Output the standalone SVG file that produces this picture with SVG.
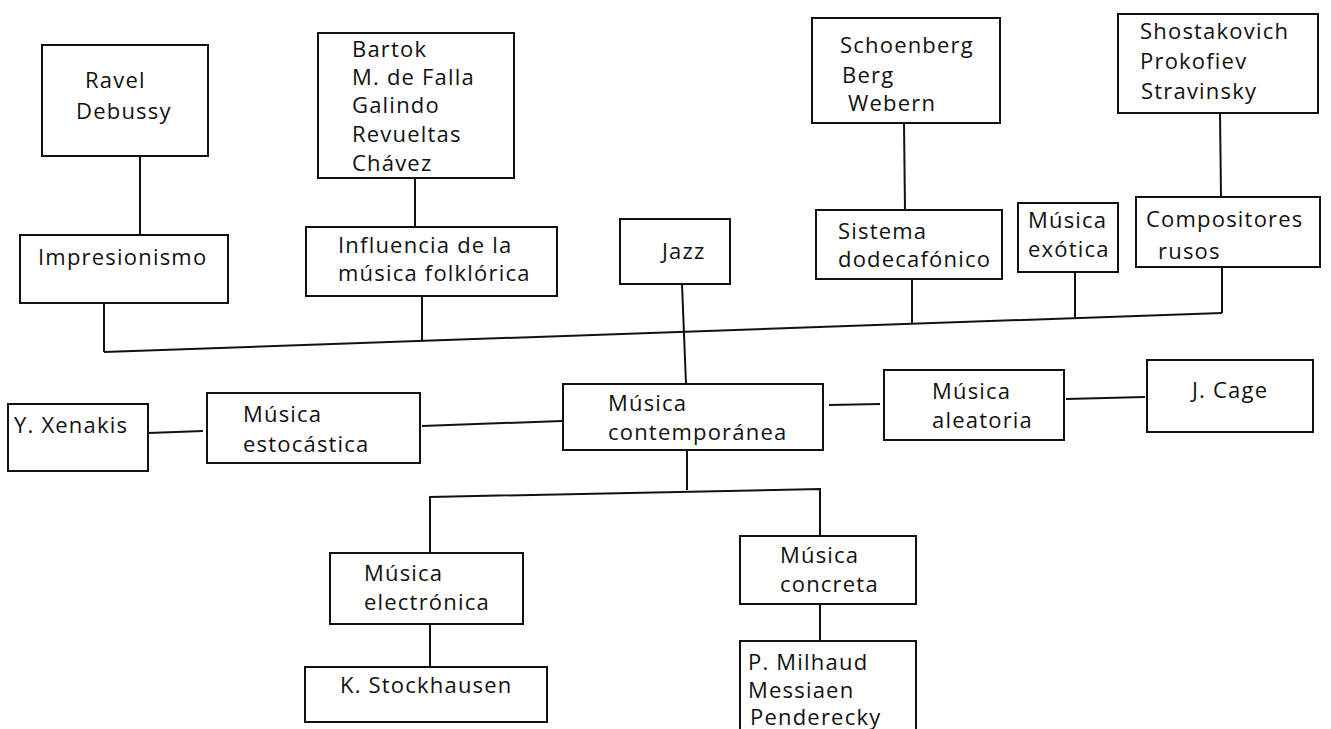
<svg xmlns="http://www.w3.org/2000/svg" width="1331" height="729" viewBox="0 0 1331 729">
<style>
rect.b{fill:#fff;stroke:#111;stroke-width:2}
.c line,.c polyline{stroke:#111;stroke-width:2;fill:none}
text{font-family:"Open Sans","Noto Sans","DejaVu Sans",sans-serif;font-size:22px;fill:#111;letter-spacing:1.2px}
</style>
<rect width="1331" height="729" fill="#fff"/>
<g class="c" id="connectors">
<line x1="140" y1="156" x2="140" y2="235"/>
<line x1="415" y1="178" x2="415" y2="227"/>
<line x1="904" y1="123" x2="905" y2="210"/>
<line x1="1220" y1="113" x2="1221" y2="197"/>
<line x1="104" y1="303" x2="104" y2="352"/>
<line x1="422" y1="296" x2="422" y2="341"/>
<line x1="912" y1="279" x2="912" y2="324"/>
<line x1="1075" y1="272" x2="1075" y2="318"/>
<line x1="1222" y1="267" x2="1222" y2="313"/>
<line x1="104" y1="352" x2="1222" y2="313"/>
<line x1="682" y1="284" x2="686" y2="384"/>
<line x1="148" y1="433" x2="203" y2="431"/>
<line x1="422" y1="426" x2="562" y2="421"/>
<line x1="829" y1="405" x2="880" y2="404"/>
<line x1="1066" y1="399" x2="1145" y2="397"/>
<line x1="687" y1="450" x2="687" y2="490"/>
<polyline points="430,553 430,497 820,489 820,536"/>
<line x1="430" y1="624" x2="430" y2="667"/>
<line x1="820" y1="604" x2="820" y2="641"/>
</g>
<g id="n-ravel"><rect class="b" x="42" y="45" width="166" height="111"/><text x="85" y="88">Ravel</text><text x="76" y="119">Debussy</text></g>
<g id="n-bartok"><rect class="b" x="318" y="33" width="196" height="145"/><text x="352" y="57">Bartok</text><text x="352" y="85">M. de Falla</text><text x="352" y="113">Galindo</text><text x="352" y="142">Revueltas</text><text x="352" y="171">Chávez</text></g>
<g id="n-schoenberg"><rect class="b" x="812" y="18" width="188" height="105"/><text x="840" y="53">Schoenberg</text><text x="842" y="83">Berg</text><text x="848" y="111">Webern</text></g>
<g id="n-shostakovich"><rect class="b" x="1118" y="14" width="200" height="99"/><text x="1140" y="39">Shostakovich</text><text x="1140" y="69">Prokofiev</text><text x="1141" y="99">Stravinsky</text></g>
<g id="n-impresionismo"><rect class="b" x="20" y="235" width="208" height="68"/><text x="38" y="265">Impresionismo</text></g>
<g id="n-influencia"><rect class="b" x="306" y="227" width="251" height="69"/><text x="338" y="253">Influencia de la</text><text x="338" y="281">música folklórica</text></g>
<g id="n-jazz"><rect class="b" x="620" y="219" width="110" height="65"/><text x="662" y="259">Jazz</text></g>
<g id="n-sistema"><rect class="b" x="816" y="210" width="186" height="69"/><text x="838" y="239">Sistema</text><text x="838" y="267">dodecafónico</text></g>
<g id="n-exotica"><rect class="b" x="1018" y="203" width="100" height="69"/><text x="1028" y="228">Música</text><text x="1028" y="257">exótica</text></g>
<g id="n-rusos"><rect class="b" x="1136" y="197" width="184" height="70"/><text x="1146" y="227">Compositores</text><text x="1158" y="259">rusos</text></g>
<g id="n-xenakis"><rect class="b" x="8" y="404" width="140" height="67"/><text x="14" y="433">Y. Xenakis</text></g>
<g id="n-estocastica"><rect class="b" x="207" y="393" width="213" height="70"/><text x="243" y="422">Música</text><text x="243" y="452">estocástica</text></g>
<g id="n-contemporanea"><rect class="b" x="563" y="384" width="260" height="66"/><text x="608" y="411">Música</text><text x="608" y="440">contemporánea</text></g>
<g id="n-aleatoria"><rect class="b" x="884" y="370" width="180" height="70"/><text x="932" y="399">Música</text><text x="932" y="428">aleatoria</text></g>
<g id="n-cage"><rect class="b" x="1147" y="360" width="166" height="72"/><text x="1192" y="398">J. Cage</text></g>
<g id="n-electronica"><rect class="b" x="330" y="553" width="193" height="71"/><text x="364" y="581">Música</text><text x="364" y="610">electrónica</text></g>
<g id="n-concreta"><rect class="b" x="740" y="536" width="176" height="68"/><text x="780" y="563">Música</text><text x="780" y="592">concreta</text></g>
<g id="n-stockhausen"><rect class="b" x="305" y="667" width="242" height="55"/><text x="340" y="693">K. Stockhausen</text></g>
<g id="n-milhaud"><rect class="b" x="740" y="641" width="176" height="100"/><text x="748" y="670">P. Milhaud</text><text x="748" y="698">Messiaen</text><text x="750" y="725">Penderecky</text></g>
</svg>
